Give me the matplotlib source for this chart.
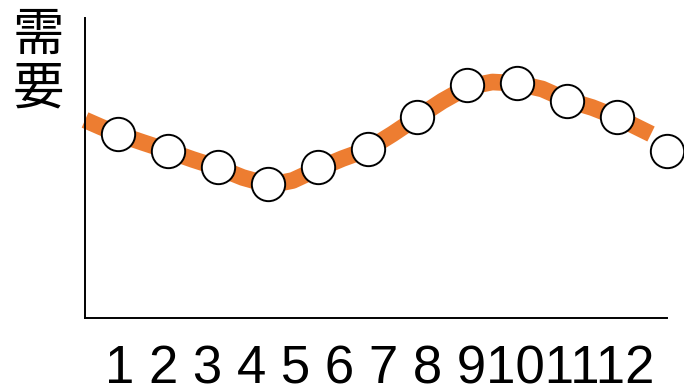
import matplotlib.pyplot as plt

# monthly demand (arbitrary units) and the smooth trend drawn behind it
months = [1, 2, 3, 4, 5, 6, 7, 8, 9, 10, 11, 12]
demand = [184, 167.3, 151, 134, 151.3, 168.7, 200.7, 233, 234.7, 217.3, 200.7, 167.3]

trend_x = [0.34, 0.66, 1.0, 1.5, 2.0, 2.5, 3.0, 3.5, 3.75, 4.0, 4.25, 4.5, 5.0, 5.5,
           6.0, 6.5, 7.0, 7.5, 8.0, 8.5, 9.0, 9.5, 10.0, 10.5, 11.0, 11.68]
trend_y = [198, 191, 184, 175.5, 167.3, 158.5, 150.5, 140.5, 137, 135, 135, 137.5,
           149, 159.5, 168.5, 184, 200.7, 217, 231, 236, 234.7, 229, 218, 210.5,
           200.7, 184]

tick_labels = [str(m) for m in months]
ylabel = "需要"

plt.rcParams['font.family'] = ['Liberation Sans', 'DejaVu Sans']

fig = plt.figure(figsize=(6.84, 3.91), dpi=100)
ax = fig.add_axes([85 / 684, 1 - 318 / 391, (667 - 85) / 684, (318 - 18) / 391])

ax.plot(trend_x, trend_y, color='#ED7D31', lw=12, solid_capstyle='butt',
        solid_joinstyle='round', zorder=2, clip_on=False)
ax.plot(months, demand, 'o', ms=24, mfc='white', mec='black', mew=1.4,
        zorder=3, clip_on=False)

ax.set_xlim(0.339, 12)
ax.set_ylim(0, 300)
ax.set_xticks([])
ax.set_yticks([])
for side in ('top', 'right'):
    ax.spines[side].set_visible(False)
for side in ('left', 'bottom'):
    ax.spines[side].set_linewidth(1.4)
    ax.spines[side].set_color('black')

# month numbers are set as one run of text, the last ones run together
label_text = " ".join(tick_labels[:9]) + "".join(tick_labels[9:])
fig.text(105 / 684, 8 / 391, label_text, fontsize=38, ha='left', va='baseline')

# vertical axis title, one character per line
for i, ch in enumerate(ylabel):
    fig.text(38 / 684, 1 - (35.5 + 53 * i) / 391, ch, fontsize=37,
             family=['Noto Sans CJK JP', 'DejaVu Sans'], ha='center', va='center')

fig.savefig('out.png', dpi=100)
